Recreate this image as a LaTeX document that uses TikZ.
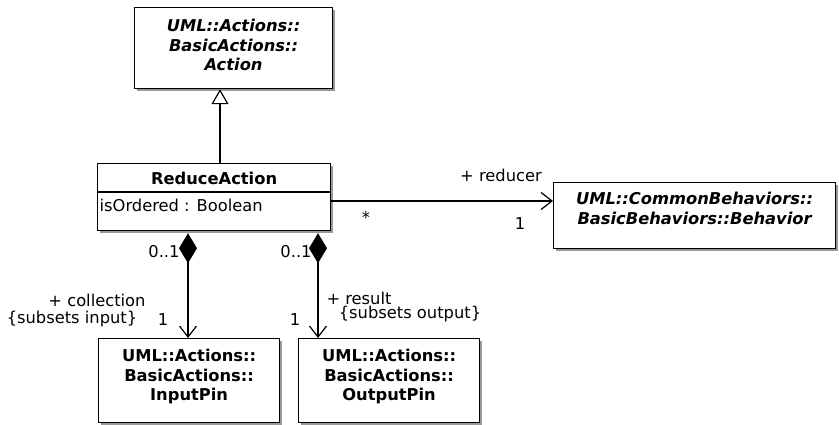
\documentclass[tikz,border=0pt]{standalone}
\usepackage{fontspec}
\setmainfont{DejaVu Sans}
\usetikzlibrary{arrows.meta}
\usetikzlibrary{shadows, math}
\newcommand{\umlfont}{\fontsize{16.3}{19.5}\selectfont}

\tikzset{
  umlbox/.style={draw, line width=1.2, fill=white, rectangle, inner sep=0, anchor=north west,
    drop shadow={shadow xshift=2pt, shadow yshift=-2pt, fill=black!40, opacity=1}},
  classname/.style={anchor=north, align=center, inner sep=0, font=\umlfont\bfseries},
  abstractname/.style={classname, font=\umlfont\bfseries\itshape},
  rolelabel/.style={inner sep=0, font=\umlfont},
  conn/.style={line width=1.2},
  openhead/.style={-{Straight Barb[length=11pt, width=17pt]}},
}

\begin{document}
\begin{tikzpicture}[x=1pt, y=-1pt]
\tikzmath{
\xgen=220;
\xin=188;
\xout=318;
\yassoc=201;
}
\useasboundingbox (0,0) rectangle (839,424);

\coordinate (gen) at (\xgen,0);
\coordinate (colIn) at (\xin,0);
\coordinate (colOut) at (\xout,0);
\coordinate (assoc) at (0,\yassoc);

% classes
\node[umlbox, minimum width=198, minimum height=81] (action) at (134,7) {};
\node[abstractname] (actionTxt) at ([yshift=-12pt]action.north) {UML::Actions::\\BasicActions::\\Action};

\node[umlbox, minimum width=233, minimum height=67] (reduce) at (97,163) {};
\node[classname] (reduceTxt) at ([yshift=-9pt]reduce.north) {ReduceAction};
\draw[conn] (97,192) -- (330,192);
\node[rolelabel, anchor=north west] (ordered) at ([xshift=2.5pt, yshift=-36pt]reduce.north west) {isOrdered : Boolean};

\node[umlbox, minimum width=282, minimum height=66] (behavior) at (553,182) {};
\node[abstractname] (behaviorTxt) at ([yshift=-10pt]behavior.north) {UML::CommonBehaviors::\\BasicBehaviors::Behavior};

\node[umlbox, minimum width=181, minimum height=84] (inpin) at (98,338) {};
\node[classname] (inpinTxt) at ([yshift=-11pt]inpin.north) {UML::Actions::\\BasicActions::\\InputPin};

\node[umlbox, minimum width=181, minimum height=84] (outpin) at (298,338) {};
\node[classname] (outpinTxt) at ([yshift=-11pt]outpin.north) {UML::Actions::\\BasicActions::\\OutputPin};

% connectors
\draw[conn, -{Triangle[open, length=15pt, width=17pt]}] (reduce.north -| gen) -- (action.south -| gen);
\draw[conn, openhead] (reduce.east |- assoc) -- (behavior.west |- assoc);
\draw[conn, {Diamond[length=30pt, width=18pt]}-{Straight Barb[length=11pt, width=17pt]}] ([yshift=-2pt]reduce.south -| colIn) -- (inpin.north -| colIn);
\draw[conn, {Diamond[length=30pt, width=18pt]}-{Straight Barb[length=11pt, width=17pt]}] ([yshift=-2pt]reduce.south -| colOut) -- (outpin.north -| colOut);

% role names and multiplicities
\node[rolelabel] (reducer) at (501,175) {+ reducer};
\node[rolelabel] (many) at (366,217) {*};
\node[rolelabel] (oneBeh) at (520,224) {1};
\node[rolelabel] (optIn) at (164,252) {0..1};
\node[rolelabel] (optOut) at (296,252) {0..1};
\node[rolelabel] (coll) at (97,300) {+ collection};
\node[rolelabel] (collSub) at (72,319) {\{subsets input\}};
\node[rolelabel] (oneIn) at (163,320) {1};
\node[rolelabel] (res) at (359,298) {+ result};
\node[rolelabel] (resSub) at (410,314) {\{subsets output\}};
\node[rolelabel] (oneOut) at (295,320) {1};
\end{tikzpicture}
\end{document}
